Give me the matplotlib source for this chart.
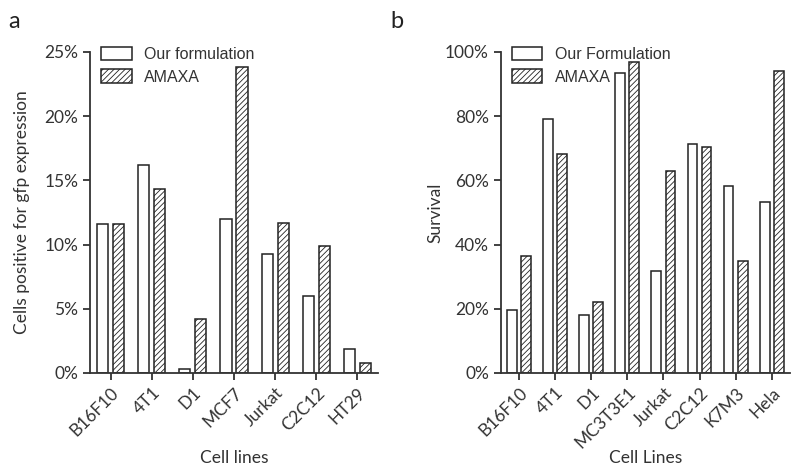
import matplotlib
matplotlib.use('Agg')
import matplotlib.pyplot as plt
import matplotlib.ticker as mtick
import numpy as np

# panel a: transfection efficiency
lines_a = ['B16F10', '4T1', 'D1', 'MCF7', 'Jurkat', 'C2C12', 'HT29']
ours_a = [11.6, 16.2, 0.3, 12.0, 9.3, 6.0, 1.9]
amaxa_a = [11.6, 14.3, 4.2, 23.8, 11.7, 9.9, 0.8]

# panel b: survival
lines_b = ['B16F10', '4T1', 'D1', 'MC3T3E1', 'Jurkat', 'C2C12', 'K7M3', 'Hela']
ours_b = [19.7, 79.1, 18.1, 93.6, 31.8, 71.2, 58.4, 53.4]
amaxa_b = [36.5, 68.3, 22.1, 96.9, 62.9, 70.3, 35.0, 94.0]

plt.rcParams['font.family'] = ['Lato', 'DejaVu Sans']
plt.rcParams['hatch.linewidth'] = 0.6
plt.rcParams['hatch.color'] = '#333333'

fig = plt.figure(figsize=(8, 4.74), dpi=100)
ax1 = fig.add_axes([0.1125, 0.2131, 0.36, 0.6772])
ax2 = fig.add_axes([0.626, 0.2131, 0.3613, 0.6772])

w = 0.27
off = 0.195


def draw(ax, names, ours, amaxa, ymax, step, lab1, ylabel, xlabel):
    x = np.arange(len(names))
    ax.bar(x - off, ours, w, color='white', edgecolor='#222222', linewidth=1.1, label=lab1)
    ax.bar(x + off, amaxa, w, color='white', edgecolor='#222222', linewidth=1.1,
           hatch='//////', label='AMAXA')
    ax.set_xlim(-0.5, len(names) - 0.5)
    ax.set_ylim(0, ymax)
    ax.set_yticks(np.arange(0, ymax + 0.1, step))
    ax.yaxis.set_major_formatter(mtick.FormatStrFormatter('%d%%'))
    ax.set_xticks(x)
    ax.set_xticklabels(names, rotation=45, ha='right', rotation_mode='anchor')
    for s in ['top', 'right']:
        ax.spines[s].set_visible(False)
    for s in ['left', 'bottom']:
        ax.spines[s].set_linewidth(1.3)
        ax.spines[s].set_color('#333333')
    ax.tick_params(length=5, width=1.3, color='#333333', labelsize=12.5, labelcolor='#333333')
    ax.set_ylabel(ylabel, fontsize=12.5, color='#333333')
    ax.set_xlabel(xlabel, fontsize=12.5, color='#333333')
    leg = ax.legend(loc='upper left', bbox_to_anchor=(0.0, 1.05), frameon=False,
                    prop={'family': 'Liberation Sans', 'size': 11.5},
                    handlelength=1.9, handleheight=0.9, handletextpad=0.8,
                    labelspacing=0.45, borderaxespad=0.3)
    for t in leg.get_texts():
        t.set_color('#333333')
    return ax


draw(ax1, lines_a, ours_a, amaxa_a, 25, 5, 'Our formulation',
     'Cells positive for gfp expression', 'Cell lines')
draw(ax2, lines_b, ours_b, amaxa_b, 100, 20, 'Our Formulation',
     'Survival', 'Cell Lines')

ax1.yaxis.set_label_coords(-0.21, 0.5)
ax1.xaxis.set_label_coords(0.5, -0.24)
ax2.yaxis.set_label_coords(-0.2, 0.5)
ax2.xaxis.set_label_coords(0.5, -0.24)

fig.text(0.01, 0.94, 'a', fontsize=17, color='#222222')
fig.text(0.488, 0.94, 'b', fontsize=17, color='#222222')

fig.savefig('out.png', dpi=100)
